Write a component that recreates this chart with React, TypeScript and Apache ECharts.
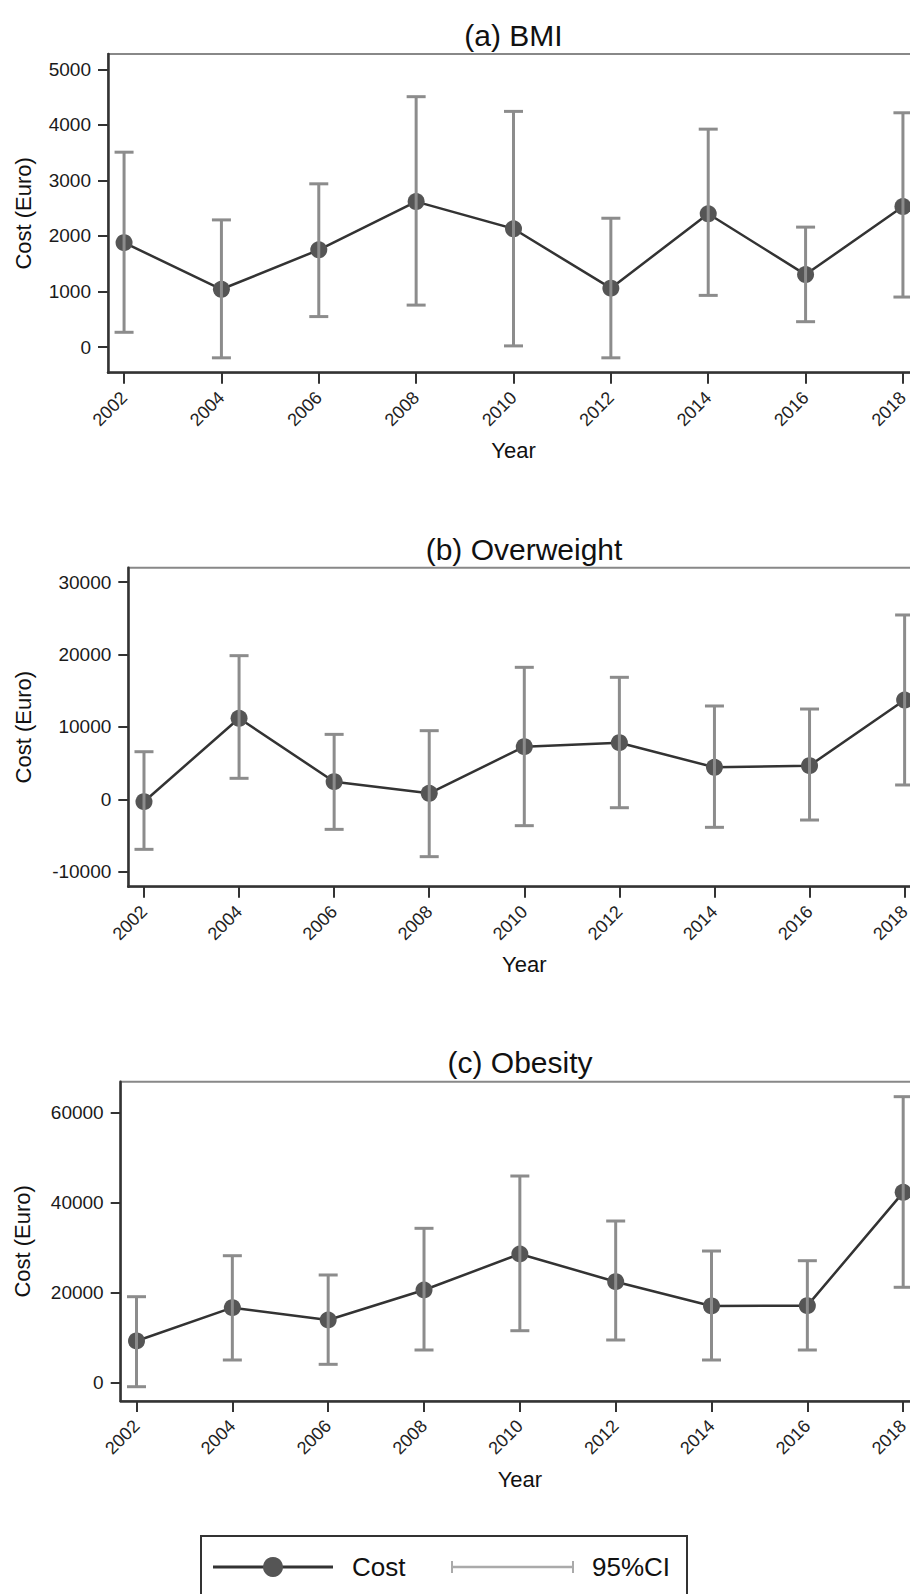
import React, { useEffect, useRef } from "react";
import * as echarts from "echarts";

const years = [2002, 2004, 2006, 2008, 2010, 2012, 2014, 2016, 2018];

const bmiCost = [1880, 1040, 1750, 2620, 2130, 1060, 2400, 1305, 2530];
const bmiLow = [265, -195, 548, 755, 20, -195, 930, 456, 900];
const bmiHigh = [3510, 2290, 2940, 4510, 4245, 2320, 3925, 2160, 4220];

const owCost = [-330, 11190, 2430, 830, 7270, 7820, 4420, 4650, 13710];
const owLow = [-6910, 2900, -4150, -7920, -3640, -1160, -3870, -2860, 1980];
const owHigh = [6575, 19840, 8970, 9480, 18230, 16850, 12890, 12470, 25460];

const obCost = [9260, 16650, 13920, 20580, 28570, 22420, 17030, 17100, 42260];
const obLow = [-890, 5040, 4080, 7260, 11540, 9480, 5040, 7260, 21180];
const obHigh = [19090, 28190, 23910, 34270, 45880, 35890, 29230, 27080, 63490];

const bmiTicks = [0, 1000, 2000, 3000, 4000, 5000];
const owTicks = [-10000, 0, 10000, 20000, 30000];
const obTicks = [0, 20000, 40000, 60000];

const panelTitles = ["(a) BMI", "(b) Overweight", "(c) Obesity"];
const yName = "Cost (Euro)";
const xName = "Year";
const legendCost = "Cost";
const legendCI = "95%CI";

const FONT = "'Liberation Sans', Arial, Helvetica, sans-serif";
const CHART_W = 940;

export default function App() {
  const ref = useRef<HTMLDivElement>(null);

  useEffect(() => {
    document.body.style.margin = "0";
    document.body.style.overflow = "hidden";
    const chart = echarts.init(ref.current!, null, { renderer: "svg" });

    const panels = [
      { cost: bmiCost, low: bmiLow, high: bmiHigh, ticks: bmiTicks, min: -463, max: 5279,
        left: 108, top: 54, height: 318.7, rightEdge: 919, nameGap: 74, titleX: 513.5, titleY: 35 },
      { cost: owCost, low: owLow, high: owHigh, ticks: owTicks, min: -12070, max: 31990,
        left: 128.3, top: 567.7, height: 319, rightEdge: 920.3, nameGap: 94, titleX: 524, titleY: 549 },
      { cost: obCost, low: obLow, high: obHigh, ticks: obTicks, min: -4062, max: 66815,
        left: 120.7, top: 1081.7, height: 319.3, rightEdge: 919, nameGap: 87, titleX: 520, titleY: 1062 },
    ];

    const axisColor = "#333";
    const ciColor = "#8c8c8c";

    const renderCI = (params: any, api: any) => {
      const x = api.value(0);
      const lo = api.value(1);
      const hi = api.value(2);
      const t = api.coord([x, hi]);
      const b = api.coord([x, lo]);
      const hw = 9.5;
      const style = { stroke: ciColor, lineWidth: 3, fill: null };
      return {
        type: "group",
        children: [
          { type: "line", shape: { x1: t[0], y1: t[1], x2: b[0], y2: b[1] }, style },
          { type: "line", shape: { x1: t[0] - hw, y1: t[1], x2: t[0] + hw, y2: t[1] }, style },
          { type: "line", shape: { x1: b[0] - hw, y1: b[1], x2: b[0] + hw, y2: b[1] }, style },
        ],
      };
    };

    const option: any = {
      animation: false,
      backgroundColor: "#fff",
      textStyle: { fontFamily: FONT },
      grid: panels.map((p) => ({
        left: p.left,
        top: p.top,
        height: p.height,
        right: CHART_W - p.rightEdge,
        show: true,
        borderColor: "#888",
        borderWidth: 2,
        backgroundColor: "transparent",
        containLabel: false,
      })),
      xAxis: panels.map((p, i) => ({
        gridIndex: i,
        type: "value",
        min: 2001.67,
        max: 2018.33,
        axisLine: { show: true, onZero: false, lineStyle: { color: axisColor, width: 2.5 } },
        axisTick: { show: true, length: 11, lineStyle: { color: axisColor, width: 2 }, customValues: years },
        axisLabel: {
          customValues: years,
          rotate: 45,
          margin: 22,
          fontSize: 18,
          fontFamily: FONT,
          color: "#222",
          formatter: (v: number) => String(v),
        },
        splitLine: { show: false },
        name: xName,
        nameLocation: "middle",
        nameGap: 67,
        nameTextStyle: { fontSize: 22, fontFamily: FONT, color: "#111" },
      })),
      yAxis: panels.map((p, i) => ({
        gridIndex: i,
        type: "value",
        min: p.min,
        max: p.max,
        axisLine: { show: true, onZero: false, lineStyle: { color: axisColor, width: 2.5 } },
        axisTick: { show: true, length: 10, lineStyle: { color: axisColor, width: 2 }, customValues: p.ticks },
        axisLabel: {
          customValues: p.ticks,
          margin: 17,
          fontSize: 19,
          fontFamily: FONT,
          color: "#1a1a1a",
          formatter: (v: number) => String(v),
        },
        splitLine: { show: false },
        name: yName,
        nameLocation: "middle",
        nameGap: p.nameGap,
        nameTextStyle: { fontSize: 22, fontFamily: FONT, color: "#111" },
      })),
      series: panels.flatMap((p, i) => [
        {
          type: "line",
          xAxisIndex: i,
          yAxisIndex: i,
          data: years.map((y, k) => [y, p.cost[k]]),
          symbol: "circle",
          symbolSize: 17,
          itemStyle: { color: "#555" },
          lineStyle: { color: "#333", width: 2.5 },
          z: 2,
          silent: true,
        },
        {
          type: "custom",
          xAxisIndex: i,
          yAxisIndex: i,
          data: years.map((y, k) => [y, p.low[k], p.high[k]]),
          encode: { x: 0, y: [1, 2] },
          renderItem: renderCI,
          clip: false,
          z: 3,
          silent: true,
        },
      ]),
      graphic: [
        ...panels.map((p, i) => ({
          type: "text",
          x: p.titleX,
          y: p.titleY,
          style: {
            text: panelTitles[i],
            font: `30px ${FONT}`,
            fill: "#111",
            align: "center",
            verticalAlign: "middle",
          },
        })),
        {
          type: "rect",
          shape: { x: 201, y: 1536, width: 486, height: 100 },
          style: { fill: "#fff", stroke: "#333", lineWidth: 2 },
        },
        {
          type: "line",
          shape: { x1: 213, y1: 1567, x2: 333, y2: 1567 },
          style: { stroke: "#333", lineWidth: 3 },
        },
        {
          type: "circle",
          shape: { cx: 273, cy: 1567, r: 10 },
          style: { fill: "#555" },
        },
        {
          type: "text",
          x: 352,
          y: 1567,
          style: { text: legendCost, font: `26px ${FONT}`, fill: "#111", align: "left", verticalAlign: "middle" },
        },
        {
          type: "line",
          shape: { x1: 452, y1: 1567, x2: 573, y2: 1567 },
          style: { stroke: "#aaa", lineWidth: 2.5 },
        },
        {
          type: "line",
          shape: { x1: 452, y1: 1561, x2: 452, y2: 1573 },
          style: { stroke: "#aaa", lineWidth: 2 },
        },
        {
          type: "line",
          shape: { x1: 573, y1: 1561, x2: 573, y2: 1573 },
          style: { stroke: "#aaa", lineWidth: 2 },
        },
        {
          type: "text",
          x: 592,
          y: 1567,
          style: { text: legendCI, font: `26px ${FONT}`, fill: "#111", align: "left", verticalAlign: "middle" },
        },
      ],
    };

    chart.setOption(option);
    return () => chart.dispose();
  }, []);

  return (
    <div style={{ position: "absolute", left: 0, top: 0, width: 910, height: 1594, overflow: "hidden", background: "#fff" }}>
      <div ref={ref} style={{ width: CHART_W, height: 1594 }} />
    </div>
  );
}
